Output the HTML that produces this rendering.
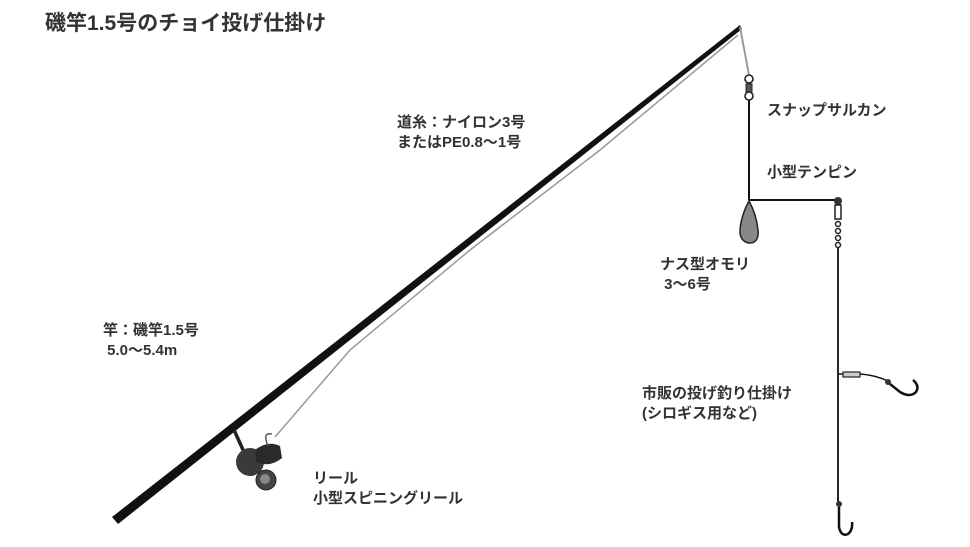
<!DOCTYPE html>
<html><head><meta charset="utf-8"><style>
body{margin:0;background:#fff;width:970px;height:547px;overflow:hidden;position:relative;font-family:"Liberation Sans","Noto Sans CJK JP",sans-serif;color:#222}
.t{position:absolute;font-size:15px;line-height:20px;white-space:pre;font-weight:bold;color:#333}
</style></head><body>
<svg width="970" height="547" style="position:absolute;left:0;top:0">
<polyline points="275,437 350,350 470,250 600,150 738,35" fill="none" stroke="#999" stroke-width="1.5"/>
<polygon points="112,517 118,524 742,29 740,25" fill="#111"/>
<line x1="740" y1="27" x2="749" y2="75" stroke="#999" stroke-width="2"/>
<circle cx="749" cy="79" r="4" fill="none" stroke="#222" stroke-width="1.6"/>
<rect x="746" y="84" width="6" height="8" fill="#555" stroke="#222"/>
<circle cx="749" cy="96" r="4" fill="none" stroke="#222" stroke-width="1.6"/>
<line x1="749" y1="100" x2="749" y2="200" stroke="#111" stroke-width="2"/>
<line x1="749" y1="200" x2="838" y2="200" stroke="#111" stroke-width="2"/>
<path d="M749,201 C744,210 740,222 740,232 C740,240 746,243 750,243 C756,243 759,238 758,230 C757,220 754,210 749,201Z" fill="#888" stroke="#222" stroke-width="1.5"/>
<circle cx="838" cy="201" r="4" fill="#333"/>
<rect x="835" y="205" width="6" height="14" fill="#fff" stroke="#222" stroke-width="1.5"/>
<circle cx="838" cy="224" r="2.5" fill="none" stroke="#222" stroke-width="1.5"/>
<circle cx="838" cy="231" r="2.5" fill="none" stroke="#222" stroke-width="1.5"/>
<circle cx="838" cy="238" r="2.5" fill="none" stroke="#222" stroke-width="1.5"/>
<circle cx="838" cy="245" r="2.5" fill="none" stroke="#222" stroke-width="1.5"/>
<line x1="838" y1="248" x2="838" y2="502" stroke="#111" stroke-width="1.8"/>
<rect x="843" y="372" width="17" height="5" fill="#ccc" stroke="#222" stroke-width="1.2"/>
<line x1="838" y1="374" x2="843" y2="374" stroke="#111" stroke-width="1.5"/>
<path d="M860,374 Q875,375 888,381" fill="none" stroke="#111" stroke-width="1.5"/>
<circle cx="888" cy="382" r="3" fill="#333"/>
<path d="M890,384 L900,392 Q910,398 916,392 Q920,386 913,380" fill="none" stroke="#111" stroke-width="2.5"/>
<circle cx="839" cy="504" r="3" fill="#333"/>
<path d="M839,507 L839,527 Q841,537 848,534 Q853,530 852,522" fill="none" stroke="#111" stroke-width="2.5"/>
<line x1="234" y1="430" x2="244" y2="452" stroke="#222" stroke-width="3.5"/>
<ellipse cx="250" cy="462" rx="14" ry="14" fill="#3a3a3a"/>
<path d="M255,450 Q268,440 280,446 L282,458 Q270,468 256,462Z" fill="#2a2a2a"/>
<circle cx="266" cy="480" r="10" fill="#444" stroke="#222"/>
<circle cx="265" cy="479" r="5" fill="#888"/>
<path d="M268,446 Q262,432 272,434" fill="none" stroke="#555" stroke-width="1.5"/>
</svg>
<div class="t" style="left:45px;top:10px;font-size:21px;line-height:27px">磯竿1.5号のチョイ投げ仕掛け</div>
<div class="t" style="left:397px;top:113px">道糸：ナイロン3号
またはPE0.8〜1号</div>
<div class="t" style="left:767px;top:101px">スナップサルカン</div>
<div class="t" style="left:767px;top:163px">小型テンピン</div>
<div class="t" style="left:660px;top:255px">ナス型オモリ
 3〜6号</div>
<div class="t" style="left:103px;top:321px">竿：磯竿1.5号
 5.0〜5.4m</div>
<div class="t" style="left:642px;top:384px">市販の投げ釣り仕掛け
(シロギス用など)</div>
<div class="t" style="left:313px;top:469px">リール
小型スピニングリール</div>
</body></html>
